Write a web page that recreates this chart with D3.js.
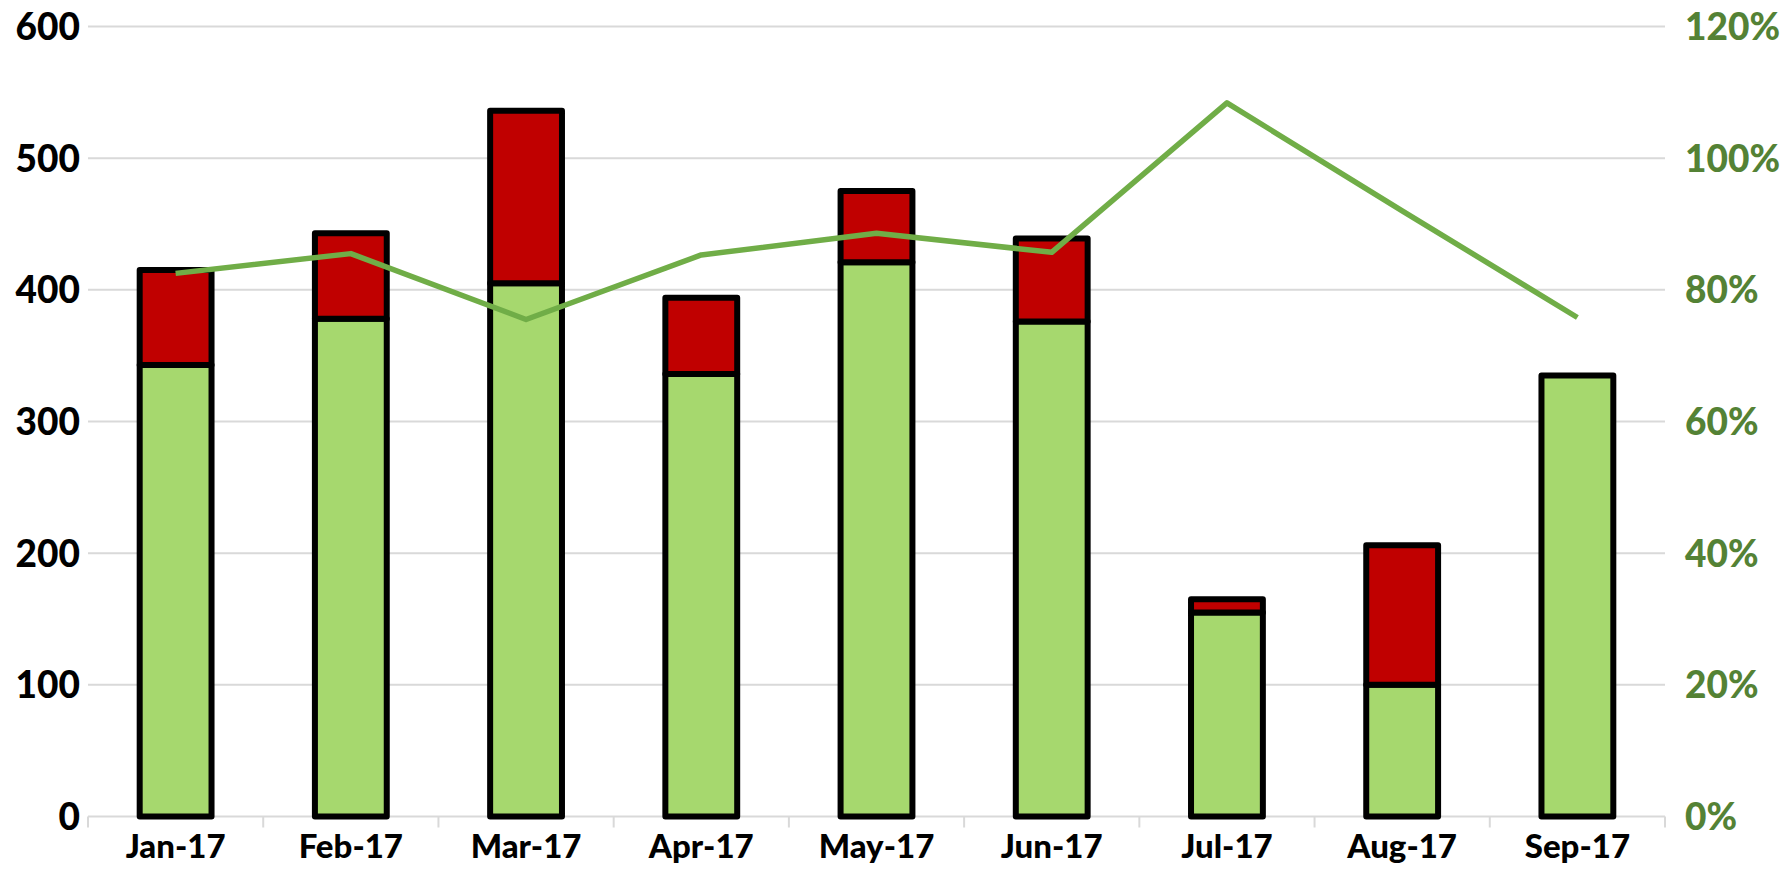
<!DOCTYPE html>
<html><head><meta charset="utf-8">
<script src="https://cdn.jsdelivr.net/npm/d3@7"></script>
<style>body{margin:0;background:#fff}svg{display:block}</style>
</head><body>
<svg id="chart" width="1787" height="878"></svg>
<script>
const months = ["Jan-17","Feb-17","Mar-17","Apr-17","May-17","Jun-17","Jul-17","Aug-17","Sep-17"];
const greenVals = [343, 378, 405, 336, 421, 376, 155, 100, 335];
const redVals = [72, 65, 131, 58, 54, 63, 10, 106, 0];
const ratioVals = [0.825, 0.855, 0.755, 0.853, 0.886, 0.857, 1.084, 0.92, 0.758];
const leftTicks = [0,100,200,300,400,500,600];
const rightTicks = [0,0.2,0.4,0.6,0.8,1.0,1.2];

const svg = d3.select("#chart");
const m = {l:88, r:1665, t:26.5, b:816.5};
const x = d3.scaleBand().domain(months).range([m.l, m.r]).paddingInner(0.59).paddingOuter(0.295);
const xc = d3.scalePoint().domain(months).range([m.l + (m.r-m.l)/18, m.r - (m.r-m.l)/18]);
const y = d3.scaleLinear().domain([0,600]).range([m.b, m.t]);
const y2 = d3.scaleLinear().domain([0,1.2]).range([m.b, m.t]);
const font = "Lato, 'Open Sans', sans-serif";

// gridlines
svg.append("g").selectAll("line").data(leftTicks).join("line")
  .attr("x1", m.l).attr("x2", m.r).attr("y1", d=>y(d)).attr("y2", d=>y(d))
  .attr("stroke", "#d9d9d9").attr("stroke-width", 2);

// x tick marks at band boundaries
const bounds = d3.range(months.length+1).map(i => m.l + i*(m.r-m.l)/months.length);
svg.append("g").selectAll("line").data(bounds).join("line")
  .attr("x1", d=>d).attr("x2", d=>d).attr("y1", m.b).attr("y2", m.b+11)
  .attr("stroke", "#d9d9d9").attr("stroke-width", 2);

// left axis labels
const leftAxis = d3.axisLeft(y).tickValues(leftTicks).tickSize(0).tickPadding(8);
const gl = svg.append("g").attr("transform", `translate(${m.l},0)`).call(leftAxis);
gl.select(".domain").remove();
gl.selectAll("text").attr("font-family",font).attr("font-weight","900")
  .attr("font-size", 37).attr("fill","#000").attr("x", -8).attr("dy","0.35em");

// right axis labels
const rightAxis = d3.axisRight(y2).tickValues(rightTicks).tickSize(0).tickPadding(20).tickFormat(d3.format(".0%"));
const gr = svg.append("g").attr("transform", `translate(${m.r},0)`).call(rightAxis);
gr.select(".domain").remove();
gr.selectAll("text").attr("font-family",font).attr("font-weight","900")
  .attr("font-size", 37).attr("fill","#548235").attr("dy","0.35em");

// bottom axis labels
const bottomAxis = d3.axisBottom(x).tickSize(0).tickPadding(18);
const gb = svg.append("g").attr("transform", `translate(0,${m.b})`).call(bottomAxis);
gb.select(".domain").remove();
gb.selectAll("text").attr("font-family",font).attr("font-weight","900")
  .attr("font-size", 33).attr("fill","#000");

// bars
const bw = x.bandwidth();
const bars = svg.append("g");
bars.selectAll("rect.g").data(months).join("rect").attr("class","g")
  .attr("x", d=>x(d)).attr("width", bw)
  .attr("y", (d,i)=>y(greenVals[i])).attr("height", (d,i)=>y(0)-y(greenVals[i]))
  .attr("fill","#a6d86e").attr("stroke","#000").attr("stroke-width",6).attr("stroke-linejoin","round");
bars.selectAll("rect.r").data(months.filter((d,i)=>redVals[i]>0)).join("rect").attr("class","r")
  .attr("x", d=>x(d)).attr("width", bw)
  .attr("y", d=>{const i=months.indexOf(d); return y(greenVals[i]+redVals[i]);})
  .attr("height", d=>{const i=months.indexOf(d); return y(greenVals[i]) - y(greenVals[i]+redVals[i]);})
  .attr("fill","#c00000").attr("stroke","#000").attr("stroke-width",6).attr("stroke-linejoin","round");

// line
const line = d3.line().x((d,i)=>xc(months[i])).y(d=>y2(d));
svg.append("path").datum(ratioVals).attr("d", line)
  .attr("fill","none").attr("stroke","#70ad47").attr("stroke-width",5.5).attr("stroke-linejoin","round");
</script>
</body></html>
